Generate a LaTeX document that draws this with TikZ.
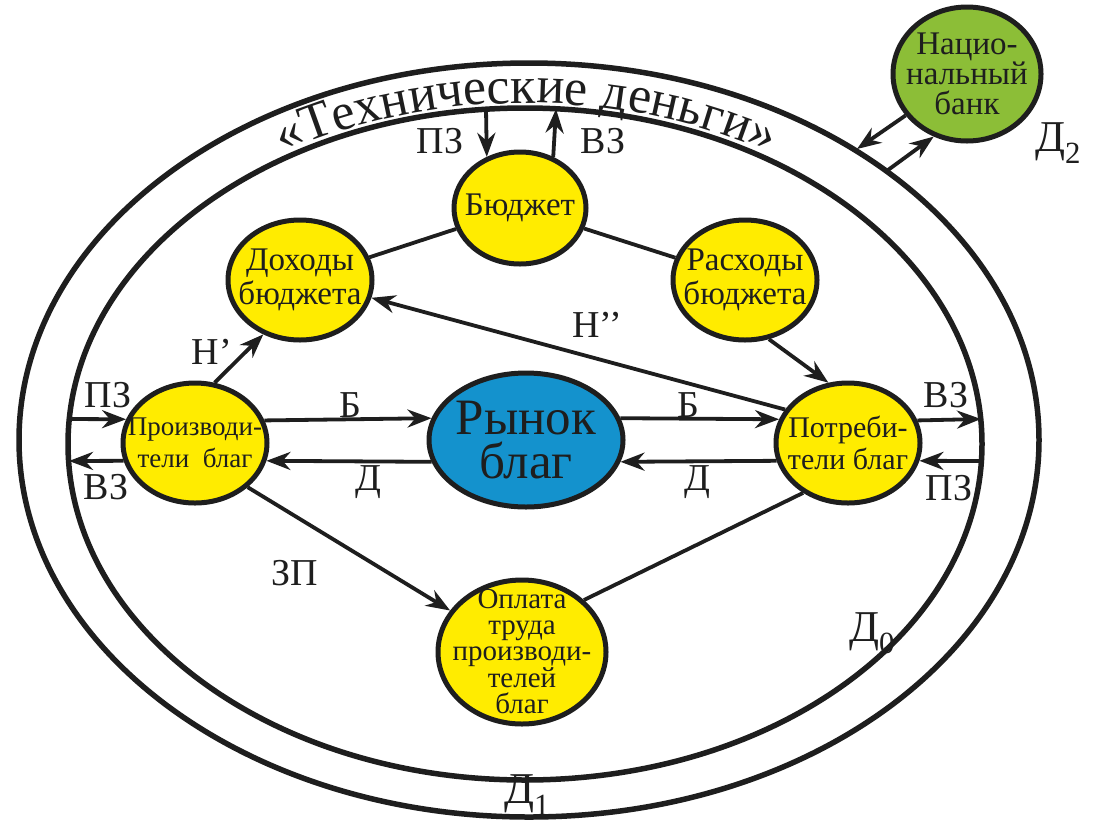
\documentclass[tikz,border=0pt]{standalone}
\usepackage{fontspec}
\setmainfont{Liberation Serif}
\usetikzlibrary{shapes.geometric,arrows.meta,decorations.text,calc}
\definecolor{ylw}{RGB}{255,236,0}
\definecolor{blu}{RGB}{20,146,205}
\definecolor{grn}{RGB}{140,190,55}
\definecolor{ink}{RGB}{30,30,30}
\begin{document}
\begin{tikzpicture}[x=1pt,y=1pt,
  blob/.style={ellipse, draw=ink, line width=5pt, inner sep=0pt},
  yb/.style={blob, fill=ylw},
  txt/.style={align=center, text=ink, inner sep=0pt},
  lbl/.style={text=ink, inner sep=0pt, font=\fontsize{38}{38}\selectfont},
  dl/.style={text=ink, inner sep=0pt, font=\fontsize{44}{44}\selectfont},
  con/.style={line width=3.8pt, draw=ink},
  arr/.style={con, -{Stealth[length=24pt,width=18pt]}},
  ring/.style={line width=5.5pt, draw=ink}
]
\useasboundingbox (0,0) rectangle (1097,-820);
\fill[white] (0,0) rectangle (1097,-820);
% rings
\draw[ring] (529,-440) ellipse [x radius=510pt, y radius=377pt];
\draw[ring] (525,-444) ellipse [x radius=457pt, y radius=336pt];
\path[decorate, decoration={text along path, text align=center,
  text={|\fontsize{52}{52}\selectfont\color{ink}|«Технические деньги»}}]
  (526,-444) ++(127:466pt and 341pt) arc[start angle=127, end angle=53, x radius=466pt, y radius=341pt];
% nodes
\node[yb, minimum width=132pt, minimum height=112pt] (budget) at (520,-208) {};
\node[txt, font=\fontsize{33}{36}\selectfont] at (budget) {Бюджет};
\node[yb, minimum width=144pt, minimum height=120pt] (doxody) at (300,-280) {};
\node[txt, font=\fontsize{33}{34}\selectfont] at (doxody) {Доходы\\бюджета};
\node[yb, minimum width=144pt, minimum height=120pt] (rasxody) at (745,-280) {};
\node[txt, font=\fontsize{33}{34}\selectfont] at (rasxody) {Расходы\\бюджета};
\node[yb, minimum width=144pt, minimum height=120pt] (prod) at (195,-443) {};
\node[txt, font=\fontsize{27}{32}\selectfont] at (prod) {Производи-\\тели\ \ благ};
\node[yb, minimum width=144pt, minimum height=120pt] (potr) at (848,-443) {};
\node[txt, font=\fontsize{30}{32}\selectfont] at (potr) {Потреби-\\тели благ};
\node[blob, fill=blu, minimum width=194pt, minimum height=134pt] (rynok) at (526,-440) {};
\node[txt, font=\fontsize{51}{44}\selectfont] at (rynok) {Рынок\\благ};
\node[yb, minimum width=168pt, minimum height=144pt] (oplata) at (522,-652) {};
\node[txt, font=\fontsize{29}{26}\selectfont] at (oplata) {Оплата\\труда\\производи-\\телей\\благ};
\node[blob, fill=grn, minimum width=148pt, minimum height=134pt] (bank) at (967,-74) {};
\node[txt, font=\fontsize{33}{30}\selectfont] at (bank) {Нацио-\\нальный\\банк};
% ring points
\coordinate (tpz) at (486,-109);
\coordinate (tvz) at (556,-109);
\coordinate (lin1) at (69,-419);
\coordinate (lin2) at (69,-461);
\coordinate (rin1) at (981,-419);
\coordinate (rin2) at (981,-461);
\coordinate (b1) at (857,-149);
\coordinate (b2) at (888,-170);
% connectors
\draw[arr] (tpz) -- (budget.123);
\draw[arr] (budget.57) -- (tvz);
\draw[con] (budget) -- (doxody);
\draw[con] (budget) -- (rasxody);
\draw[arr] (rasxody.-68) -- (potr.108);
\draw[arr] (potr.152) -- (doxody.-14);
\draw[arr] (prod.72) -- (doxody.236);
\draw[arr] (lin1) -- (prod.161.5);
\draw[arr] (prod.194.3) -- (lin2);
\draw[arr] (prod.18.5) -- (rynok.167);
\draw[arr] (rynok.193) -- (prod.-14.3);
\draw[arr] (rynok.13) -- (potr.161.5);
\draw[arr] (potr.194.3) -- (rynok.-13);
\draw[arr] (potr.18.5) -- (rin1);
\draw[arr] (rin2) -- (potr.-14.3);
\draw[arr] (prod.-40) -- (oplata.150);
\draw[con] (oplata.40) -- (potr.228);
\draw[arr] (bank.214) -- (b1);
\draw[arr] (b2) -- (bank.242);
% labels
\node[lbl] (l1) at (440,-141) {ПЗ};
\node[lbl] (l2) at (603,-141) {ВЗ};
\node[lbl] (l3) at (108,-395) {ПЗ};
\node[lbl] (l4) at (106,-487) {ВЗ};
\node[lbl] (l5) at (946,-395) {ВЗ};
\node[lbl] (l6) at (949,-488) {ПЗ};
\node[lbl] (l7) at (350,-405) {Б};
\node[lbl] (l8) at (368,-482) {Д};
\node[lbl] (l9) at (688,-405) {Б};
\node[lbl] (l10) at (697,-482) {Д};
\node[lbl] (l11) at (212,-352) {Н’};
\node[lbl] (l12) at (597,-325) {Н’’};
\node[lbl] (l13) at (295,-573) {ЗП};
\node[dl] (d0) at (872,-633) {Д\textsubscript{0}};
\node[dl] (d1) at (527,-795) {Д\textsubscript{1}};
\node[dl] (d2) at (1058,-143) {Д\textsubscript{2}};
\end{tikzpicture}
\end{document}
